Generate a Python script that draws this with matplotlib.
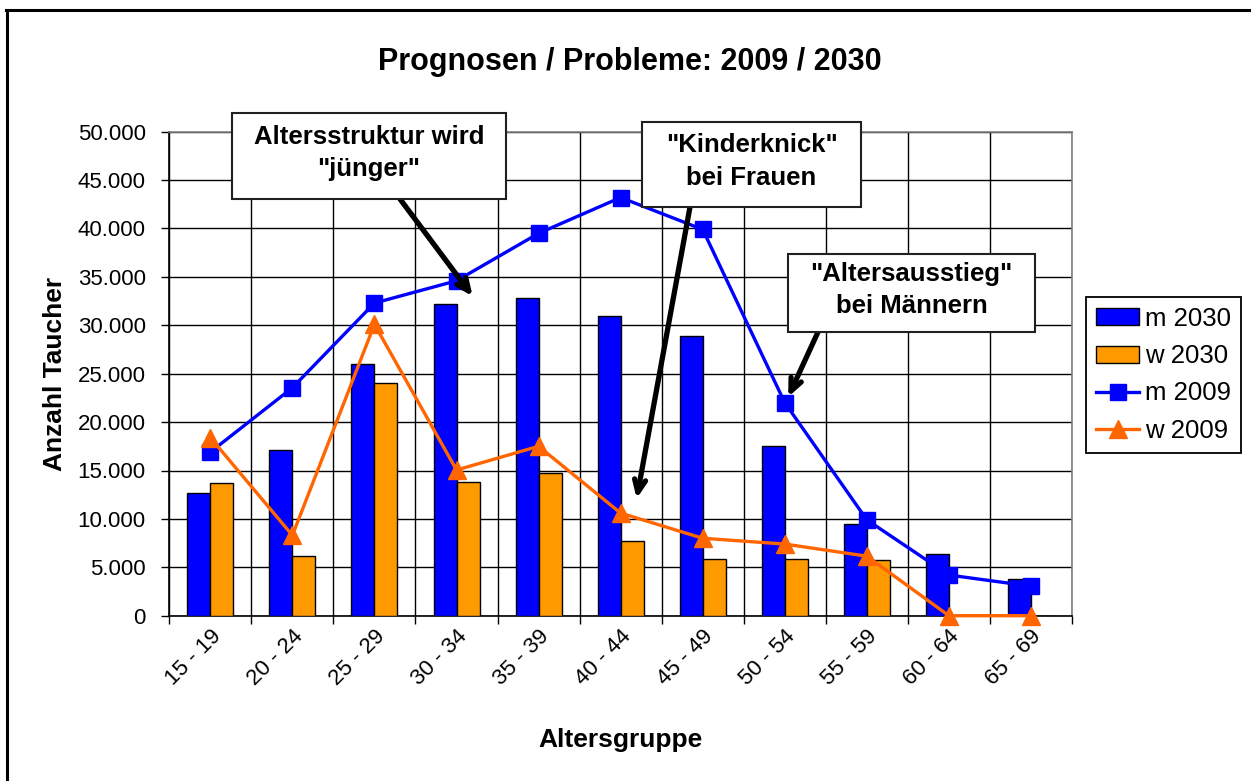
import matplotlib
matplotlib.use("Agg")
import matplotlib.pyplot as plt
from matplotlib.lines import Line2D
from matplotlib.patches import Rectangle
from matplotlib.ticker import FixedLocator, FuncFormatter, NullFormatter
import matplotlib.transforms as mtransforms
import numpy as np

plt.rcParams['font.family'] = ['Liberation Sans', 'DejaVu Sans']

# Age groups and diver counts
age_groups = ["15 - 19", "20 - 24", "25 - 29", "30 - 34", "35 - 39", "40 - 44",
              "45 - 49", "50 - 54", "55 - 59", "60 - 64", "65 - 69"]
m_2030 = [12650, 17150, 26000, 32250, 32850, 31000, 28900, 17500, 9500, 6400, 3750]
w_2030 = [13700, 6200, 24000, 13850, 14770, 7700, 5860, 5850, 5750, 0, 0]
m_2009 = [16900, 23550, 32300, 34600, 39500, 43200, 39900, 22000, 9900, 4200, 3050]
w_2009 = [18400, 8300, 30100, 15050, 17500, 10600, 8000, 7400, 6150, 0, 0]

series_labels = ["m 2030", "w 2030", "m 2009", "w 2009"]
title = "Prognosen / Probleme: 2009 / 2030"

C_M30 = "#0000FF"
C_W30 = "#FF9900"
C_M09 = "#0000FF"
C_W09 = "#FF6600"

W, H = 1251, 781
fig = plt.figure(figsize=(W / 100, H / 100), dpi=100)
fig.patch.set_facecolor("white")


def fx(px):
    return px / W


def fy(py):
    return 1 - py / H


ax = fig.add_axes([fx(169.3), fy(615.7), fx(1072) - fx(169.3), fy(131.7) - fy(615.7)])

x = np.arange(len(age_groups))
bw = 0.28
ax.bar(x - bw / 2, m_2030, width=bw, color=C_M30, edgecolor="black", linewidth=1.0, zorder=3)
ax.bar(x + bw / 2, w_2030, width=bw, color=C_W30, edgecolor="black", linewidth=1.0, zorder=3)
ax.plot(x, m_2009, color=C_M09, lw=2.4, marker="s", ms=12, mec=C_M09, mfc=C_M09, zorder=4,
        clip_on=False)
ax.plot(x, w_2009, color=C_W09, lw=2.4, marker="^", ms=13.5, mec=C_W09, mfc=C_W09, zorder=5,
        clip_on=False)

ax.set_xlim(-0.5, len(age_groups) - 0.5)
ax.set_ylim(0, 50000)

# Axes, ticks and grid
ax.yaxis.set_major_locator(FixedLocator(np.arange(0, 50001, 5000)))
ax.yaxis.set_major_formatter(FuncFormatter(lambda v, p: f"{int(v):,}".replace(",", ".")))
ax.xaxis.set_major_locator(FixedLocator(np.arange(-0.5, len(age_groups), 1.0)))
ax.xaxis.set_major_formatter(NullFormatter())
ax.xaxis.set_minor_locator(FixedLocator(x))
ax.set_xticklabels(age_groups, minor=True, rotation=45, ha="right", va="top",
                   rotation_mode="anchor", fontsize=16)
shift = mtransforms.ScaledTranslation(-6 / 100, 0, fig.dpi_scale_trans)
for lbl in ax.get_xticklabels(minor=True):
    lbl.set_transform(lbl.get_transform() + shift)
ax.tick_params(axis="x", which="minor", length=0, pad=7)
ax.tick_params(axis="x", which="major", length=6, width=1, direction="out")
ax.tick_params(axis="y", which="major", length=6, width=1, direction="out", labelsize=16, pad=11)
ax.grid(True, which="major", color="black", linewidth=1.0, zorder=0)
ax.set_axisbelow(True)

for s in ["top", "right"]:
    ax.spines[s].set_color("#808080")
    ax.spines[s].set_linewidth(1.2)
for s in ["left", "bottom"]:
    ax.spines[s].set_color("black")
    ax.spines[s].set_linewidth(1.2)

ylab = ax.set_ylabel("Anzahl Taucher", fontsize=19, fontweight="bold")
ax.yaxis.set_label_coords(-0.1266, 0.5)
ylab.set_va("center")
xlab = ax.set_xlabel("Altersgruppe", fontsize=19, fontweight="bold")
ax.xaxis.set_label_coords(0.4995, -0.257)
xlab.set_va("center")
fig.text(fx(630), fy(62), title, fontsize=22, fontweight="bold", ha="center", va="center")

# Legend
handles = [
    Rectangle((0, 0), 1, 1, facecolor=C_M30, edgecolor="black", linewidth=1.0),
    Rectangle((0, 0), 1, 1, facecolor=C_W30, edgecolor="black", linewidth=1.0),
    Line2D([], [], color=C_M09, lw=2.4, marker="s", ms=12, mec=C_M09),
    Line2D([], [], color=C_W09, lw=2.4, marker="^", ms=13.5, mec=C_W09),
]
leg = fig.legend(handles, series_labels, loc="upper left", bbox_to_anchor=(fx(1086), fy(297)),
                 bbox_transform=fig.transFigure, borderaxespad=0, fontsize=18.5,
                 handlelength=1.7, handleheight=0.65, handletextpad=0.22, labelspacing=0.52,
                 borderpad=0.38, fancybox=False, shadow=False, framealpha=1)
leg.get_frame().set_edgecolor("black")
leg.get_frame().set_linewidth(1.3)

# Annotation call-outs: box extents (px), text, arrow tail (px) and arrow tip (data)
callouts = [
    ((232, 113, 506, 199), "Altersstruktur wird\n\"jünger\"", (400, 199), (3.197, 33000)),
    ((642, 122, 861, 207), "\"Kinderknick\"\nbei Frauen", (690, 207), (5.195, 12100)),
    ((788, 254, 1035, 332), "\"Altersausstieg\"\nbei Männern", (818, 332), (7.042, 22600)),
]
for (x0, y0, x1, y1), txt, tail, tip in callouts:
    fig.patches.append(Rectangle((fx(x0), fy(y1)), fx(x1) - fx(x0), fy(y0) - fy(y1),
                                 transform=fig.transFigure, facecolor="white",
                                 edgecolor="#202020", linewidth=1.5, zorder=6))
    fig.text(fx((x0 + x1) / 2), fy((y0 + y1) / 2 - 3), txt, fontsize=18.5, fontweight="bold",
             ha="center", va="center", linespacing=1.45, zorder=7)
    ax.annotate("", xy=tip, xycoords="data", xytext=(fx(tail[0]), fy(tail[1])),
                textcoords="figure fraction",
                arrowprops=dict(arrowstyle="->,head_length=0.9,head_width=0.4", color="black",
                                lw=3.8, shrinkA=0, shrinkB=0), zorder=8, annotation_clip=False)

# Outer frame
fig.lines.append(Line2D([fx(7), fx(7)], [0, fy(9.5)], transform=fig.transFigure,
                        color="black", lw=2.2))
fig.lines.append(Line2D([fx(6), 1], [fy(9.5), fy(9.5)], transform=fig.transFigure,
                        color="black", lw=2.2))

fig.savefig("out.png", dpi=100, facecolor="white")
